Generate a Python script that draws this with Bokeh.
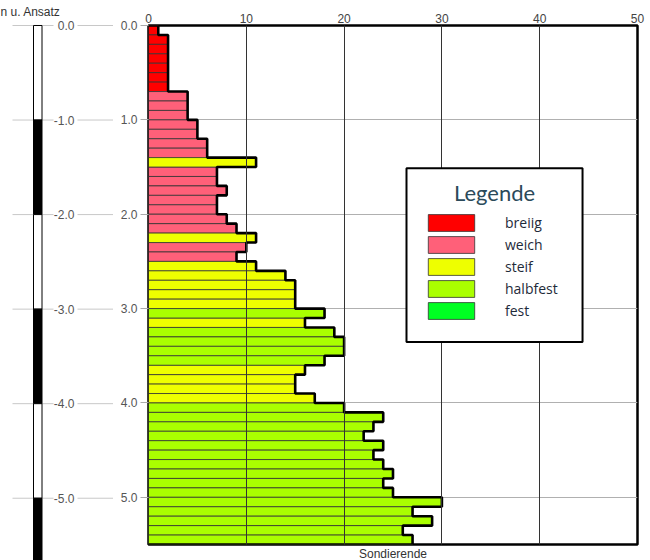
from bokeh.plotting import figure
from bokeh.models import (Range1d, FixedTicker, NumeralTickFormatter, Legend,
                          LegendItem, Label, ColumnDataSource, BoxAnnotation,
                          Title)
from bokeh.layouts import row
from bokeh.embed import file_html
from bokeh.resources import INLINE
from bokeh.core.properties import value

# ---------------- data ----------------
depth_top = [0.0, 0.1, 0.2, 0.3, 0.4, 0.5, 0.6, 0.7, 0.8, 0.9,
             1.0, 1.1, 1.2, 1.3, 1.4, 1.5, 1.6, 1.7, 1.8, 1.9,
             2.0, 2.1, 2.2, 2.3, 2.4, 2.5, 2.6, 2.7, 2.8, 2.9,
             3.0, 3.1, 3.2, 3.3, 3.4, 3.5, 3.6, 3.7, 3.8, 3.9,
             4.0, 4.1, 4.2, 4.3, 4.4, 4.5, 4.6, 4.7, 4.8, 4.9,
             5.0, 5.1, 5.2, 5.3, 5.4]
blows = [1, 2, 2, 2, 2, 2, 2, 4, 4, 4,
         5, 5, 6, 6, 11, 7, 7, 8, 7, 7,
         8, 9, 11, 10, 9, 11, 14, 15, 15, 15,
         18, 16, 19, 20, 20, 18, 16, 15, 15, 17,
         20, 24, 23, 22, 24, 23, 24, 25, 24, 25,
         30, 27, 29, 26, 27]
consistency = ["breiig"] * 7 + ["weich"] * 7 + ["steif"] + ["weich"] * 7 + \
              ["steif"] + ["weich"] * 2 + ["steif"] * 5 + ["halbfest"] + \
              ["steif"] + ["halbfest"] * 4 + ["steif"] * 4 + ["halbfest"] * 15
classes = ["breiig", "weich", "steif", "halbfest", "fest"]
class_colors = ["#ff0000", "#ff6079", "#eeff00", "#aaff00", "#00ff22"]

x_ticks = [0, 10, 20, 30, 40, 50]
depth_ticks = [0, 1, 2, 3, 4, 5]
depth_tick_labels = ["0.0", "-1.0", "-2.0", "-3.0", "-4.0", "-5.0"]
scale_top = [0, 1, 2, 3, 4, 5]
scale_bottom = [1, 2, 3, 4, 5, 6]
scale_colors = ["white", "black", "white", "black", "white", "black"]

STEP = 0.1
FONT = value("Liberation Sans")

# ---------------- left depth scale ----------------
left = figure(width=113, height=560, x_range=Range1d(0, 113),
              y_range=Range1d(5.6587, -0.2644), toolbar_location=None,
              output_backend="svg", min_border=0)
try:
    left.frame_align = False
except Exception:
    pass
left.axis.visible = False
left.grid.visible = False
left.outline_line_color = None

left.segment(x0=[12] * 6, x1=[53] * 6, y0=depth_ticks, y1=depth_ticks,
             line_color="#c8c8c8", line_width=1)
left.segment(x0=[77] * 6, x1=[113] * 6, y0=depth_ticks, y1=depth_ticks,
             line_color="#c8c8c8", line_width=1)
left.quad(left=33, right=41.5, top=scale_top, bottom=scale_bottom,
          fill_color=scale_colors, line_color="black", line_width=1)
left.text(x=[74] * 6, y=depth_ticks, text=depth_tick_labels,
          text_align="right", text_baseline="middle",
          text_font=FONT, text_font_size="12px", text_color="#555555")
left.text(x=[0], y=[-0.14], text=["n u. Ansatz"], text_align="left",
          text_baseline="middle", text_font=FONT, text_font_size="12px",
          text_color="#333333")

# ---------------- main chart ----------------
p = figure(width=537, height=560, x_range=Range1d(0, 50),
           y_range=Range1d(5.5, 0), x_axis_location="above",
           toolbar_location=None, output_backend="svg",
           min_border_left=35, min_border_right=13,
           min_border_top=25, min_border_bottom=15)
try:
    p.frame_align = False
except Exception:
    pass

p.xaxis.ticker = FixedTicker(ticks=x_ticks)
p.xaxis.major_tick_out = 0
p.xaxis.major_tick_in = 0
p.xaxis.minor_tick_line_color = None
p.xaxis.axis_line_color = None
p.xaxis.major_label_standoff = 3
p.xaxis.major_label_text_font = "Liberation Sans"
p.xaxis.major_label_text_font_size = "12px"
p.xaxis.major_label_text_color = "#444444"

p.yaxis.ticker = FixedTicker(ticks=depth_ticks)
p.yaxis.formatter = NumeralTickFormatter(format="0.0")
p.yaxis.major_tick_out = 8
p.yaxis.major_tick_in = 0
p.yaxis.major_tick_line_color = "#aaaaaa"
p.yaxis.minor_tick_line_color = None
p.yaxis.axis_line_color = None
p.yaxis.major_label_standoff = 3
p.yaxis.major_label_text_font = "Liberation Sans"
p.yaxis.major_label_text_font_size = "12px"
p.yaxis.major_label_text_color = "#555555"

p.xgrid.ticker = FixedTicker(ticks=x_ticks)
p.xgrid.grid_line_color = "#333333"
p.xgrid.grid_line_width = 1
p.xgrid.level = "guide"
p.ygrid.ticker = FixedTicker(ticks=depth_ticks)
p.ygrid.grid_line_color = "#b0b0b0"
p.ygrid.grid_line_width = 1

p.outline_line_color = "black"
p.outline_line_width = 2.5

items = []
for cls, col in zip(classes, class_colors):
    idx = [i for i, c in enumerate(consistency) if c == cls]
    ys = [depth_top[i] + STEP / 2 for i in idx]
    rs = [blows[i] for i in idx]
    if not idx:  # class not present in this sounding: keep a legend entry
        ys, rs = [float("nan")], [float("nan")]
    src = ColumnDataSource(dict(y=ys, right=rs))
    r = p.hbar(y="y", left=0, right="right", height=STEP, source=src,
               fill_color=col, line_color="#333333", line_width=0.8)
    items.append(LegendItem(label=cls, renderers=[r]))

# thick profile outline
px, py = [0], [0]
for d, v in zip(depth_top, blows):
    px += [v, v]
    py += [d, d + STEP]
px.append(0)
py.append(depth_top[-1] + STEP)
p.line(px, py, line_color="black", line_width=2.6)

# legend frame + centred title
p.add_layout(BoxAnnotation(left=26.38, right=44.38, top=1.5125, bottom=3.353,
                           fill_color="white", fill_alpha=1,
                           line_color="black", line_width=2, line_alpha=1))
p.add_layout(Label(x=35.38, y=1.77, text="Legende", text_align="center",
                   text_baseline="middle", text_font="Lato",
                   text_font_size="22px", text_color="#2b4a5a"))

legend = Legend(items=items, location=(274, 223),
                label_text_font="Open Sans", label_text_font_size="14px",
                label_text_color="#1e2a3a",
                glyph_width=58, glyph_height=21, label_height=17,
                label_standoff=25, spacing=1, padding=0, margin=0,
                border_line_color=None, background_fill_alpha=0)
p.add_layout(legend, "center")

p.add_layout(Title(text="Sondierende", align="center", standoff=0,
                   text_font="Liberation Sans", text_font_size="12px",
                   text_font_style="normal", text_color="#333333"), "below")

layout = row(left, p, spacing=0)
open("out.html", "w").write(file_html(layout, INLINE))
